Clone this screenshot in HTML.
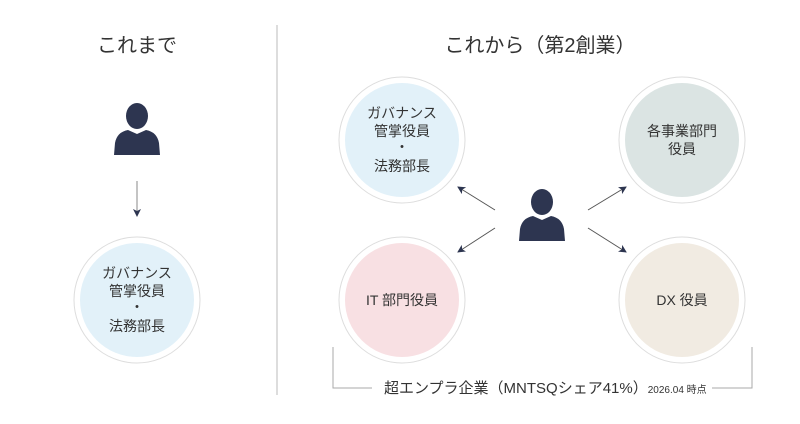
<!DOCTYPE html>
<html><head><meta charset="utf-8"><style>
body{margin:0;width:800px;height:419px;background:#fff;overflow:hidden;font-family:"Liberation Sans","Noto Sans CJK JP",sans-serif;color:#333;}
svg text{font-family:"Liberation Sans","Noto Sans CJK JP",sans-serif;}
</style></head><body>
<svg width="800" height="419" viewBox="0 0 800 419" xmlns="http://www.w3.org/2000/svg">
<defs>
<marker id="ah" markerWidth="8" markerHeight="8" refX="7" refY="4" orient="auto" markerUnits="userSpaceOnUse"><path d="M0,0 L8,4 L0,8 L2,4 Z" fill="#2d3550"/></marker>
<g id="person"><ellipse cx="0" cy="-12" rx="11" ry="13" fill="#2d3550"/><path d="M-23,27 L-22,15 Q-20,4 -9,2 L0,6 L9,2 Q20,4 22,15 L23,27 Z" fill="#2d3550"/></g>
</defs>
<line x1="277" y1="25" x2="277" y2="395" stroke="#bbb" stroke-width="1"/>
<text x="137" y="52" font-size="20" text-anchor="middle" fill="#333">これまで</text>
<text x="540" y="52" font-size="20" text-anchor="middle" fill="#333">これから（第2創業）</text>

<use href="#person" x="137" y="128"/>
<line x1="137" y1="181" x2="137" y2="216" stroke="#888" stroke-width="1" marker-end="url(#ah)"/>

<g font-size="14" fill="#333" text-anchor="middle">
<circle cx="137" cy="300" r="63" fill="#fff" stroke="#ddd"/><circle cx="137" cy="300" r="57" fill="#e2f1f9"/>
<text x="137" y="278">ガバナンス</text><text x="137" y="296">管掌役員</text><text x="137" y="312">・</text><text x="137" y="331">法務部長</text>

<circle cx="402" cy="140" r="63" fill="#fff" stroke="#ddd"/><circle cx="402" cy="140" r="57" fill="#e2f1f9"/>
<text x="402" y="118">ガバナンス</text><text x="402" y="136">管掌役員</text><text x="402" y="152">・</text><text x="402" y="171">法務部長</text>

<circle cx="682" cy="140" r="63" fill="#fff" stroke="#ddd"/><circle cx="682" cy="140" r="57" fill="#dbe4e3"/>
<text x="682" y="136">各事業部門</text><text x="682" y="154">役員</text>

<circle cx="402" cy="300" r="63" fill="#fff" stroke="#ddd"/><circle cx="402" cy="300" r="57" fill="#f8e0e3"/>
<text x="402" y="305">IT 部門役員</text>

<circle cx="682" cy="300" r="63" fill="#fff" stroke="#ddd"/><circle cx="682" cy="300" r="57" fill="#f1ebe2"/>
<text x="682" y="305">DX 役員</text>
</g>

<use href="#person" x="542" y="214"/>
<g stroke="#555" stroke-width="1">
<line x1="495" y1="210" x2="458" y2="187" marker-end="url(#ah)"/>
<line x1="495" y1="228" x2="458" y2="252" marker-end="url(#ah)"/>
<line x1="588" y1="210" x2="626" y2="187" marker-end="url(#ah)"/>
<line x1="588" y1="228" x2="626" y2="252" marker-end="url(#ah)"/>
</g>

<polyline points="333,347 333,388 372,388" fill="none" stroke="#aaa"/>
<polyline points="712,388 752,388 752,347" fill="none" stroke="#aaa"/>
<text x="384" y="393" font-size="15" fill="#333">超エンプラ企業（MNTSQシェア41%）<tspan font-size="10">2026.04 時点</tspan></text>
</svg>
</body></html>
